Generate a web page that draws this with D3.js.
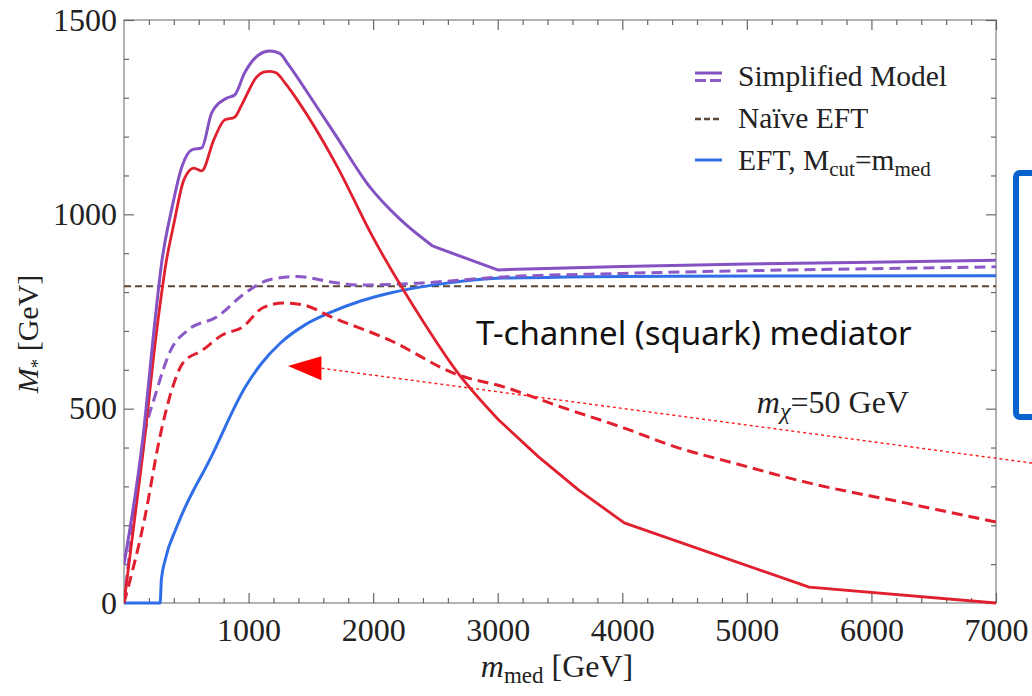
<!DOCTYPE html>
<html>
<head>
<meta charset="utf-8">
<script src="https://cdn.jsdelivr.net/npm/d3@7"></script>
<style>
  body { margin: 0; background: #fff; }
  .tick text { font-family: "Liberation Serif", serif; font-size: 32px; fill: #222; }
  .tick line { stroke: #666; stroke-width: 1.2px; }
</style>
</head>
<body>
<div class="container"></div>
<script>
const WIDTH = 1032;
const HEIGHT = 696;
const LEFT = 124, RIGHT = 996, TOP = 20, BOTTOM = 603;

// tick labels
var xTicks = [1000, 2000, 3000, 4000, 5000, 6000, 7000];
var yTicks = [0, 500, 1000, 1500];

// Simplified model, solid (purple)
var simpSolidX = [0, 150, 250, 300, 384, 464, 544, 624, 704, 824, 888, 968, 1080, 1168, 1250, 1320, 1500, 1688, 1960, 2224, 2480, 3000, 4000, 5000, 6000, 7000];
var simpSolidY = [100, 420, 730, 870, 1015, 1122, 1166, 1171, 1261, 1299, 1307, 1364, 1410, 1420, 1414, 1385, 1300, 1209, 1076, 985, 918, 857, 866, 872, 877, 882];

// Simplified model, dashed (purple)
var simpDashX = [0, 70, 144, 264, 376, 512, 744, 976, 1160, 1392, 1664, 1896, 2360, 3048, 4000, 5000, 6000, 7000];
var simpDashY = [0, 200, 394, 548, 651, 702, 736, 798, 831, 840, 826, 818, 823, 839, 848, 855, 860, 865];

// red solid
var redSolidX = [0, 150, 270, 340, 400, 480, 560, 624, 720, 808, 888, 944, 1064, 1120, 1168, 1220, 1300, 1400, 1700, 2000, 2400, 2680, 3008, 3328, 3648, 4016, 5500, 7000];
var redSolidY = [0, 380, 720, 880, 975, 1088, 1119, 1112, 1191, 1243, 1250, 1281, 1353, 1366, 1368, 1364, 1335, 1290, 1130, 940, 725, 592, 471, 376, 291, 206, 41, 0];

// red dashed
var redDashX = [0, 168, 288, 376, 472, 632, 792, 952, 1112, 1280, 1440, 1664, 2128, 2680, 3048, 3512, 4016, 4432, 4896, 5496, 6280, 7000];
var redDashY = [0, 221, 427, 540, 617, 651, 690, 710, 759, 772, 767, 736, 677, 587, 556, 504, 450, 401, 360, 309, 257, 208];

// EFT, Mcut = mmed (blue)
var eftX = [0, 290, 300, 330, 424, 700, 976, 1100, 1256, 1450, 1668, 1900, 2128, 2592, 3048, 4432, 7000];
var eftY = [0, 0, 60, 110, 196, 376, 557, 615, 669, 715, 749, 777, 797, 823, 836, 841, 842];

// Naive EFT (flat)
var naiveX = [0, 7000];
var naiveY = [815, 815];

var translate = function (x, y) {
  return "translate(" + x + "," + y + ")";
};

var zip = function (xs, ys) {
  return xs.map(function (v, i) { return [v, ys[i]]; });
};

var display = function () {
  var svg = d3.select('.container').append('svg')
    .attr('width', WIDTH)
    .attr('height', HEIGHT)
    .style('background', '#fff');

  var xScale = d3.scaleLinear().domain([0, 7000]).range([LEFT, RIGHT]);
  var yScale = d3.scaleLinear().domain([0, 1500]).range([BOTTOM, TOP]);

  var xMinor = d3.range(0, 7001, 200).filter(function (d) { return d % 1000 !== 0; });
  var yMinor = d3.range(0, 1501, 100).filter(function (d) { return d % 500 !== 0; });
  var noDomain = function (g) { g.select('.domain').remove(); };

  // frame
  svg.append('rect')
    .attr('x', LEFT).attr('y', TOP)
    .attr('width', RIGHT - LEFT).attr('height', BOTTOM - TOP)
    .attr('fill', 'none').attr('stroke', '#999').attr('stroke-width', 1.5);

  // bottom
  svg.append('g').attr('transform', translate(0, BOTTOM))
    .call(d3.axisBottom(xScale).tickValues(xTicks).tickSize(-10).tickPadding(15).tickFormat(d3.format('d')))
    .call(noDomain);
  svg.append('g').attr('transform', translate(0, BOTTOM))
    .call(d3.axisBottom(xScale).tickValues(xMinor).tickSize(-5).tickFormat(''))
    .call(noDomain);
  // top
  svg.append('g').attr('transform', translate(0, TOP))
    .call(d3.axisTop(xScale).tickValues(xTicks).tickSize(-10).tickFormat(''))
    .call(noDomain);
  svg.append('g').attr('transform', translate(0, TOP))
    .call(d3.axisTop(xScale).tickValues(xMinor).tickSize(-5).tickFormat(''))
    .call(noDomain);
  // left
  svg.append('g').attr('transform', translate(LEFT, 0))
    .call(d3.axisLeft(yScale).tickValues(yTicks).tickSize(-10).tickPadding(7).tickFormat(d3.format('d')))
    .call(noDomain);
  svg.append('g').attr('transform', translate(LEFT, 0))
    .call(d3.axisLeft(yScale).tickValues(yMinor).tickSize(-5).tickFormat(''))
    .call(noDomain);
  // right
  svg.append('g').attr('transform', translate(RIGHT, 0))
    .call(d3.axisRight(yScale).tickValues(yTicks).tickSize(-10).tickFormat(''))
    .call(noDomain);
  svg.append('g').attr('transform', translate(RIGHT, 0))
    .call(d3.axisRight(yScale).tickValues(yMinor).tickSize(-5).tickFormat(''))
    .call(noDomain);

  svg.append('clipPath').attr('id', 'plot')
    .append('rect').attr('x', LEFT).attr('y', TOP - 2)
    .attr('width', RIGHT - LEFT).attr('height', BOTTOM - TOP + 4);

  var smooth = d3.line()
    .x(function (d) { return xScale(d[0]); })
    .y(function (d) { return yScale(d[1]); })
    .curve(d3.curveMonotoneX);
  var straight = d3.line()
    .x(function (d) { return xScale(d[0]); })
    .y(function (d) { return yScale(d[1]); });

  // smooth up to split, straight segments after (Mathematica kinks)
  var mixed = function (split) {
    return function (pts) {
      var a = pts.filter(function (p) { return p[0] <= split; });
      var b = pts.filter(function (p) { return p[0] >= split; });
      return smooth(a) + straight(b);
    };
  };

  var lines = svg.append('g').attr('clip-path', 'url(#plot)');

  var series = [
    { pts: zip(naiveX, naiveY), color: '#5b4636', dash: '7,4', w: 2.2, gen: straight },
    { pts: zip(eftX, eftY), color: '#2f6ee6', dash: null, w: 3, gen: smooth },
    { pts: zip(redDashX, redDashY), color: '#e0202e', dash: '11,6', w: 3, gen: smooth },
    { pts: zip(simpDashX, simpDashY), color: '#8c5ac8', dash: '11,6', w: 3, gen: smooth },
    { pts: zip(redSolidX, redSolidY), color: '#e0202e', dash: null, w: 2.8, gen: mixed(3008) },
    { pts: zip(simpSolidX, simpSolidY), color: '#8552c4', dash: null, w: 3, gen: mixed(2480) }
  ];

  series.forEach(function (s) {
    lines.append('path')
      .attr('d', s.gen(s.pts))
      .attr('fill', 'none')
      .attr('stroke', s.color)
      .attr('stroke-width', s.w)
      .attr('stroke-dasharray', s.dash)
      .attr('stroke-linejoin', 'round');
  });

  // legend
  var serif = '"Liberation Serif", serif';
  var leg = svg.append('g');
  leg.append('line').attr('x1', 695).attr('x2', 722).attr('y1', 73).attr('y2', 73)
    .attr('stroke', '#8552c4').attr('stroke-width', 3);
  leg.append('line').attr('x1', 695).attr('x2', 722).attr('y1', 80.5).attr('y2', 80.5)
    .attr('stroke', '#8c5ac8').attr('stroke-width', 3).attr('stroke-dasharray', '11,4');
  leg.append('line').attr('x1', 695).attr('x2', 722).attr('y1', 119).attr('y2', 119)
    .attr('stroke', '#5b4636').attr('stroke-width', 2.5).attr('stroke-dasharray', '6,3');
  leg.append('line').attr('x1', 695).attr('x2', 722).attr('y1', 160).attr('y2', 160)
    .attr('stroke', '#2f6ee6').attr('stroke-width', 3);

  leg.append('text').attr('x', 738).attr('y', 86)
    .style('font-family', serif).style('font-size', '29.5px').attr('fill', '#222')
    .text('Simplified Model');
  leg.append('text').attr('x', 738).attr('y', 128)
    .style('font-family', serif).style('font-size', '29.5px').attr('fill', '#222')
    .text('Naïve EFT');
  var eftT = leg.append('text').attr('x', 738).attr('y', 170)
    .style('font-family', serif).style('font-size', '29.5px').attr('fill', '#222');
  eftT.append('tspan').text('EFT, M');
  eftT.append('tspan').attr('dy', 6).style('font-size', '21px').text('cut');
  eftT.append('tspan').attr('dy', -6).text('=m');
  eftT.append('tspan').attr('dy', 6).style('font-size', '21px').text('med');

  // axis titles
  var xt = svg.append('text').attr('x', 557).attr('y', 677)
    .attr('text-anchor', 'middle')
    .style('font-family', serif).style('font-size', '32px').attr('fill', '#222');
  xt.append('tspan').style('font-style', 'italic').text('m');
  xt.append('tspan').attr('dy', 6).style('font-size', '23px').text('med');
  xt.append('tspan').attr('dy', -6).text('\u00a0[GeV]');

  var yt = svg.append('text')
    .attr('transform', translate(38, 334) + ' rotate(-90)')
    .attr('text-anchor', 'middle')
    .style('font-family', serif).style('font-size', '30px').attr('fill', '#222');
  yt.append('tspan').style('font-style', 'italic').text('M');
  yt.append('tspan').attr('dy', 6).style('font-size', '19px').text('*');
  yt.append('tspan').attr('dy', -6).text('\u00a0[GeV]');

  // annotations
  svg.append('text').attr('x', xScale(2825)).attr('y', yScale(664))
    .style('font-family', '"Noto Sans", sans-serif').style('font-size', '33px').attr('fill', '#111')
    .text('T-channel (squark) mediator');

  var mx = svg.append('text').attr('x', xScale(5080)).attr('y', yScale(489))
    .style('font-family', serif).style('font-size', '32px').attr('fill', '#222');
  mx.append('tspan').style('font-style', 'italic').text('m');
  mx.append('tspan').attr('dy', 6).style('font-size', '24px').style('font-style', 'italic').text('χ');
  mx.append('tspan').attr('dy', -6).text('=50 GeV');

  // arrow (data coords)
  var arrowTail = [7290, 360], arrowBase = [1585, 604], arrowTip = [1316, 610];
  svg.append('line')
    .attr('x1', xScale(arrowTail[0])).attr('y1', yScale(arrowTail[1]))
    .attr('x2', xScale(arrowBase[0])).attr('y2', yScale(arrowBase[1]))
    .attr('stroke', '#ff1a1a').attr('stroke-width', 1.4).attr('stroke-dasharray', '3,3');
  var bx = xScale(arrowBase[0]), by = yScale(arrowBase[1]);
  svg.append('path')
    .attr('d', 'M' + xScale(arrowTip[0]) + ',' + yScale(arrowTip[1]) +
      'L' + bx + ',' + (by - 12) + 'L' + bx + ',' + (by + 12) + 'Z')
    .attr('fill', '#ff0000');

  // blue box at right edge
  svg.append('rect')
    .attr('x', 1016).attr('y', 173).attr('width', 40).attr('height', 244)
    .attr('rx', 4)
    .attr('fill', 'none').attr('stroke', '#0a62cf').attr('stroke-width', 6);
};

window.onload = function () {
  display();
};
</script>
</body>
</html>
